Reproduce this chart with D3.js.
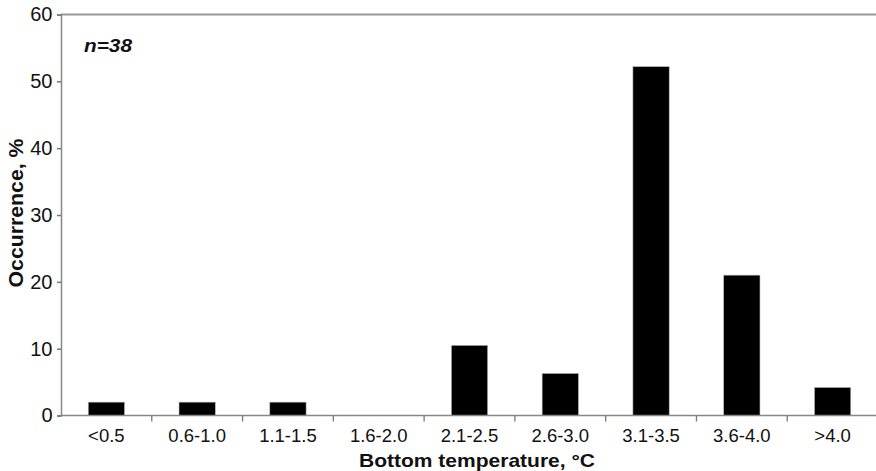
<!DOCTYPE html>
<html><head><meta charset="utf-8">
<script src="https://cdn.jsdelivr.net/npm/d3@7"></script>
<style>body{margin:0;background:#fff;}svg{display:block;font-family:"Liberation Sans",Arial,sans-serif;}</style>
</head><body><svg id="c" width="876" height="471"></svg>
<script>
const categories = ["<0.5","0.6-1.0","1.1-1.5","1.6-2.0","2.1-2.5","2.6-3.0","3.1-3.5","3.6-4.0",">4.0"];
const values = [2.0, 2.0, 2.0, 0, 10.5, 6.3, 52.2, 21.0, 4.2];
const yTicks = [0,10,20,30,40,50,60];

const svg = d3.select("#c");
const m = {left:61, top:14.5, right:-2, bottom:55.5};
const W = 876, H = 471;
const xb = d3.scaleBand().domain(categories).range([m.left, W - m.right]);
const y = d3.scaleLinear().domain([0,60]).range([H - m.bottom, m.top]);

// top border
svg.append("line").attr("x1", m.left).attr("x2", W).attr("y1", y(60)).attr("y2", y(60))
  .attr("stroke","#999").attr("stroke-width",2.2);

// bars
svg.append("g").selectAll("rect").data(values).join("rect")
  .attr("x",(d,i)=>xb(categories[i]) + xb.bandwidth()*0.3)
  .attr("width", xb.bandwidth()*0.4)
  .attr("y", d=>y(d)).attr("height", d=>y(0)-y(d))
  .attr("fill","#000").attr("stroke","#bbb").attr("stroke-width",0.6);

// y axis
const ya = d3.axisLeft(y).tickValues(yTicks).tickSize(4).tickPadding(4.5);
const gy = svg.append("g").attr("transform",`translate(${m.left},0)`).call(ya);
gy.select(".domain").attr("stroke","#888").attr("stroke-width",1.5);
gy.selectAll(".tick line").attr("stroke","#777").attr("stroke-width",1.5);
gy.selectAll(".tick text").attr("font-size",20).attr("fill","#111").attr("font-family","Liberation Sans, Arial, sans-serif");

// x axis
const gx = svg.append("g").attr("transform",`translate(0,${y(0)})`);
gx.append("line").attr("x1",m.left).attr("x2",W).attr("stroke","#888").attr("stroke-width",1.5);
gx.selectAll("line.t").data(categories.slice(1)).join("line").attr("class","t")
  .attr("x1",d=>xb(d)).attr("x2",d=>xb(d)).attr("y1",0).attr("y2",6).attr("stroke","#777").attr("stroke-width",1.3);
gx.selectAll("text").data(categories).join("text")
  .attr("x",d=>xb(d)+xb.bandwidth()/2).attr("y",26.5).attr("text-anchor","middle")
  .attr("font-size",18.5).attr("fill","#111").text(d=>d);

// titles
svg.append("text").attr("x",477).attr("y",466.7).attr("text-anchor","middle")
  .attr("font-size",19).attr("font-weight","bold").attr("fill","#111")
  .attr("textLength",236).attr("lengthAdjust","spacingAndGlyphs").text("Bottom temperature, \u00B0C");
svg.append("text").attr("transform",`translate(23,213) rotate(-90)`).attr("text-anchor","middle")
  .attr("font-size",20).attr("font-weight","bold").attr("fill","#111")
  .attr("textLength",149).attr("lengthAdjust","spacingAndGlyphs").text("Occurrence, %");

// annotation
svg.append("text").attr("x",84).attr("y",52).attr("font-size",19).attr("font-weight","bold")
  .attr("font-style","italic").attr("fill","#111")
  .attr("textLength",48).attr("lengthAdjust","spacingAndGlyphs").text("n=38");
</script></body></html>
